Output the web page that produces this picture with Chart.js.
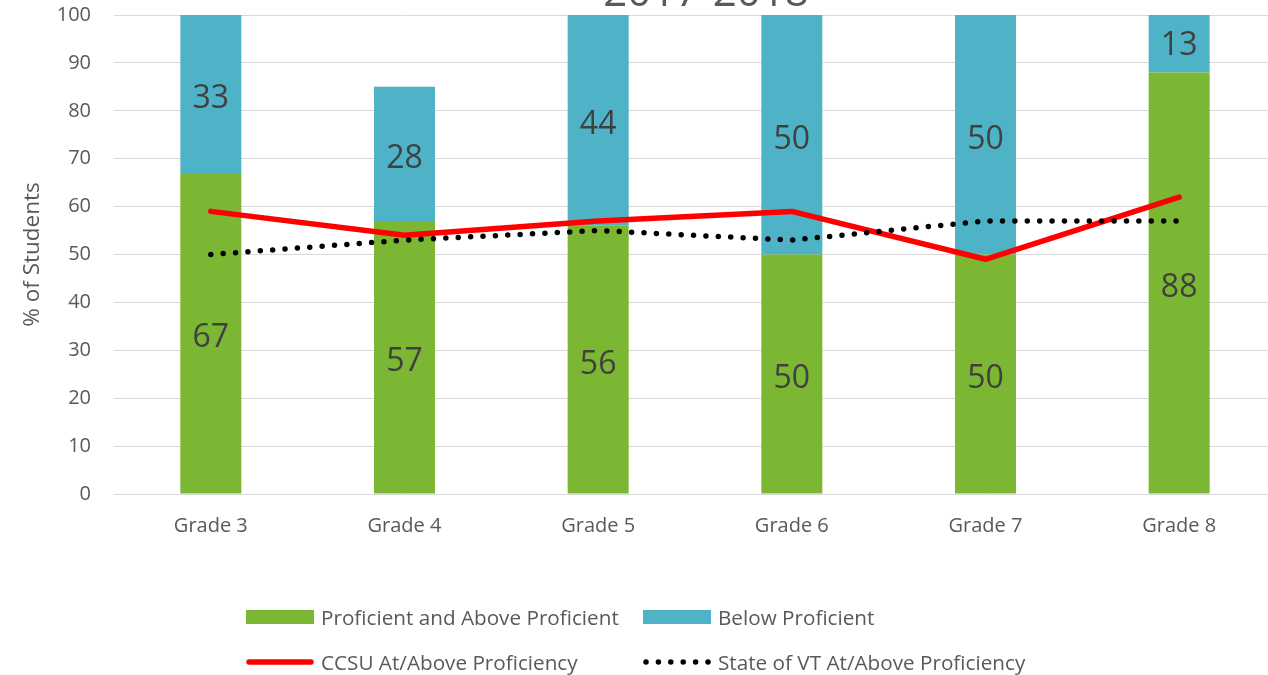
<!DOCTYPE html>
<html>
<head>
<meta charset="utf-8">
<script src="https://cdn.jsdelivr.net/npm/chart.js@4/dist/chart.umd.min.js"></script>
<style>
  html, body { margin: 0; padding: 0; width: 1268px; height: 675px; overflow: hidden; background: #fff; font-family: "Open Sans", sans-serif; }
  #wrap { position: absolute; left: 0; top: -60px; width: 1412px; height: 735px; }
  #legend { position: absolute; left: 0; top: 0; width: 1268px; height: 675px; pointer-events: none; }
  .item { position: absolute; display: flex; align-items: center; font-size: 20.7px; color: #595959; white-space: nowrap; }
  .mark { width: 68px; height: 16px; margin-right: 7px; display: flex; align-items: center; }
</style>
</head>
<body>
<div id="wrap"><canvas id="c"></canvas></div>
<div id="legend"></div>
<script>
const categories = ['Grade 3', 'Grade 4', 'Grade 5', 'Grade 6', 'Grade 7', 'Grade 8'];
const proficient = [67, 57, 56, 50, 50, 88];
const belowProficient = [33, 28, 44, 50, 50, 13];
const ccsuLine = [59, 54, 57, 59, 49, 62];
const stateLine = [50, 53, 55, 53, 57, 57];
const seriesNames = ['Proficient and Above Proficient', 'Below Proficient', 'CCSU At/Above Proficiency', 'State of VT At/Above Proficiency'];
const yMin = 0, yMax = 100, yStep = 10;
const titleText = '2017-2018';
const yTitle = '% of Students';

const GREEN = 'rgb(123,183,50)';
const BLUE = 'rgb(79,179,200)';
const RED = '#ff0000';
const GRAY = '#595959';

const barLabels = {
  id: 'barLabels',
  afterDatasetsDraw(chart) {
    const ctx = chart.ctx;
    ctx.save();
    ctx.font = '32px "Open Sans"';
    ctx.fillStyle = '#404040';
    ctx.textAlign = 'center';
    ctx.textBaseline = 'middle';
    chart.data.datasets.forEach((ds, i) => {
      if (ds.type !== 'bar') return;
      const meta = chart.getDatasetMeta(i);
      meta.data.forEach((el, j) => {
        const v = ds.data[j];
        ctx.fillText(String(v), el.x, (el.y + el.base) / 2 + 5);
      });
    });
    ctx.restore();
  }
};

const chart = new Chart(document.getElementById('c'), {
  type: 'bar',
  data: {
    labels: categories,
    datasets: [
      { type: 'line', label: seriesNames[3], data: stateLine, stack: 'state', borderColor: '#000', borderWidth: 5.5, borderDash: [0, 12.4], borderCapStyle: 'round', pointRadius: 0, tension: 0, fill: false, order: 0 },
      { type: 'line', label: seriesNames[2], data: ccsuLine, stack: 'ccsu', borderColor: RED, borderWidth: 5.5, borderCapStyle: 'round', borderJoinStyle: 'round', pointRadius: 0, tension: 0, fill: false, order: 1 },
      { type: 'bar', label: seriesNames[0], data: proficient, backgroundColor: GREEN, stack: 'bars', order: 2, barPercentage: 0.315, categoryPercentage: 1 },
      { type: 'bar', label: seriesNames[1], data: belowProficient, backgroundColor: BLUE, stack: 'bars', order: 3, barPercentage: 0.315, categoryPercentage: 1 }
    ]
  },
  options: {
    responsive: true,
    maintainAspectRatio: false,
    animation: false,
    layout: { padding: { left: 0, right: 0, top: 0, bottom: 141 } },
    plugins: {
      legend: { display: false },
      tooltip: { enabled: false },
      title: {
        display: true, text: titleText, color: GRAY,
        font: { family: 'Open Sans', size: 42, weight: 'normal', lineHeight: 1 },
        padding: { top: 33, bottom: 0 }
      }
    },
    scales: {
      x: {
        stacked: true,
        grid: { display: false, drawTicks: false },
        border: { display: false },
        ticks: { color: GRAY, font: { family: 'Open Sans', size: 20 }, padding: 20 },
        afterFit(s) { s.height = 40; }
      },
      y: {
        stacked: true,
        min: yMin, max: yMax,
        grid: { color: '#d9d9d9', lineWidth: 1, drawTicks: false },
        border: { display: false },
        ticks: { stepSize: yStep, color: GRAY, font: { family: 'Open Sans', size: 20 }, padding: 23 },
        title: { display: true, text: yTitle, color: GRAY, font: { family: 'Open Sans', size: 22.5 }, padding: { top: 19, bottom: 0 } },
        afterFit(s) { s.width = 114; }
      },
      yRight: {
        position: 'right',
        display: true,
        grid: { display: false, drawTicks: false },
        border: { display: false },
        ticks: { display: false },
        afterFit(s) { s.width = 136; }
      }
    }
  },
  plugins: [barLabels]
});

// HTML legend built from the chart's datasets
const legend = document.getElementById('legend');
const pos = [
  { name: seriesNames[0], x: 246, y: 617, kind: 'box', color: GREEN },
  { name: seriesNames[1], x: 643, y: 617, kind: 'box', color: BLUE },
  { name: seriesNames[2], x: 246, y: 662, kind: 'line', color: RED },
  { name: seriesNames[3], x: 643, y: 662, kind: 'dots', color: '#000' }
];
pos.forEach(p => {
  const it = document.createElement('div');
  it.className = 'item';
  it.style.left = p.x + 'px';
  it.style.top = (p.y - 14) + 'px';
  it.style.height = '28px';
  const m = document.createElement('div');
  m.className = 'mark';
  let svg;
  if (p.kind === 'box') svg = `<svg width="68" height="16"><rect x="0" y="1" width="68" height="14" fill="${p.color}"/></svg>`;
  else if (p.kind === 'line') svg = `<svg width="68" height="16"><line x1="3" y1="8" x2="65" y2="8" stroke="${p.color}" stroke-width="5.5" stroke-linecap="round"/></svg>`;
  else svg = `<svg width="68" height="16"><line x1="3" y1="8" x2="66" y2="8" stroke="${p.color}" stroke-width="5.5" stroke-linecap="round" stroke-dasharray="0 12.4"/></svg>`;
  m.innerHTML = svg;
  const t = document.createElement('span');
  t.textContent = p.name;
  it.appendChild(m); it.appendChild(t);
  legend.appendChild(it);
});
</script>
</body>
</html>
